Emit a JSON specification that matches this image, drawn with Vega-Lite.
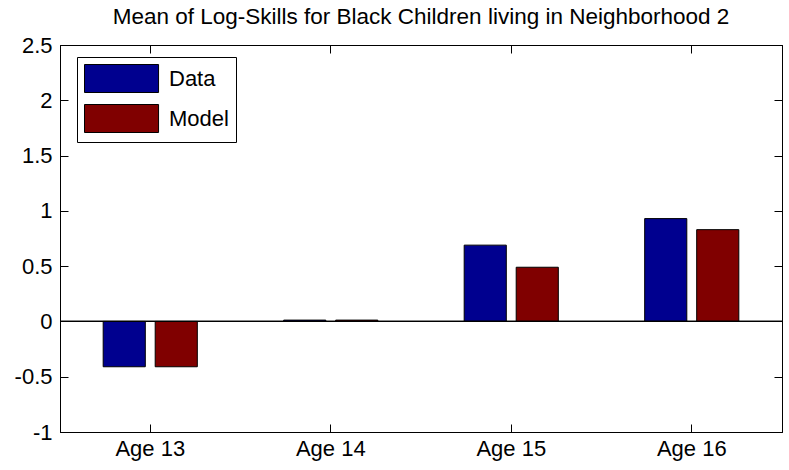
{
  "$schema": "https://vega.github.io/schema/vega-lite/v6.json",
  "autosize": "none",
  "width": 722,
  "height": 387,
  "padding": {"left": 60, "top": 45, "right": 7, "bottom": 38},
  "background": "white",
  "title": {
    "text": "Mean of Log-Skills for Black Children living in Neighborhood 2",
    "font": "Liberation Sans",
    "fontSize": 22.5,
    "fontWeight": "normal",
    "color": "black",
    "anchor": "middle",
    "offset": 6
  },
  "config": {
    "view": {"stroke": "black", "strokeWidth": 1},
    "axis": {"grid": false, "domainColor": "black", "tickColor": "black", "labelColor": "black", "labelFont": "Liberation Sans", "labelFontSize": 22, "titleFontSize": 0}
  },
  "data": {
    "values": [
      {"age": "Age 13", "series": "Data", "value": -0.41},
      {"age": "Age 13", "series": "Model", "value": -0.41},
      {"age": "Age 14", "series": "Data", "value": 0.012},
      {"age": "Age 14", "series": "Model", "value": 0.012},
      {"age": "Age 15", "series": "Data", "value": 0.69},
      {"age": "Age 15", "series": "Model", "value": 0.49},
      {"age": "Age 16", "series": "Data", "value": 0.93},
      {"age": "Age 16", "series": "Model", "value": 0.83}
    ]
  },
  "layer": [
    {
      "mark": {"type": "bar", "stroke": "black", "strokeWidth": 1},
      "encoding": {
        "x": {"field": "age", "type": "nominal", "title": null,
              "scale": {"paddingInner": 0, "paddingOuter": 0},
              "axis": {"orient": "bottom", "labelAngle": 0, "tickSize": -8, "labelPadding": 14, "domain": true}},
        "xOffset": {"field": "series", "type": "nominal", "scale": {"paddingInner": 0.19, "paddingOuter": 0.83}},
        "y": {"field": "value", "type": "quantitative", "title": null,
              "scale": {"domain": [-1, 2.5], "nice": false, "zero": false},
              "axis": {"orient": "left", "values": [-1, -0.5, 0, 0.5, 1, 1.5, 2, 2.5], "tickSize": -8, "labelPadding": 16, "labelExpr": "toString(datum.value)"}},
        "fill": {"field": "series", "type": "nominal", "title": null,
                 "scale": {"domain": ["Data", "Model"], "range": ["#00008f", "#800000"]},
                 "legend": {
                   "orient": "none", "legendX": 17, "legendY": 12,
                   "symbolType": "M-1,-1H4.29V1H-1Z",
                   "symbolSize": 784,
                   "symbolStrokeColor": "black",
                   "symbolStrokeWidth": 1,
                   "symbolOpacity": 1,
                   "labelFont": "Liberation Sans",
                   "labelFontSize": 22,
                   "labelColor": "black",
                   "labelOffset": 56,
                   "rowPadding": 7,
                   "padding": 7,
                   "strokeColor": "black",
                   "fillColor": "white",
                   "labelExpr": "datum.label + '     '"
                 }}
      }
    },
    {
      "mark": {"type": "point", "opacity": 0},
      "encoding": {
        "x": {"field": "age", "type": "nominal", "title": null,
              "axis": {"orient": "top", "labels": false, "tickSize": -8, "domain": true}},
        "y": {"field": "value", "type": "quantitative", "title": null,
              "axis": {"orient": "right", "labels": false, "values": [-1, -0.5, 0, 0.5, 1, 1.5, 2, 2.5], "tickSize": -8, "domain": true}}
      }
    },
    {
      "mark": {"type": "rule", "color": "black", "strokeWidth": 1},
      "encoding": {"y": {"datum": 0, "axis": null}}
    }
  ],
  "resolve": {"axis": {"x": "independent", "y": "independent"}}
}
